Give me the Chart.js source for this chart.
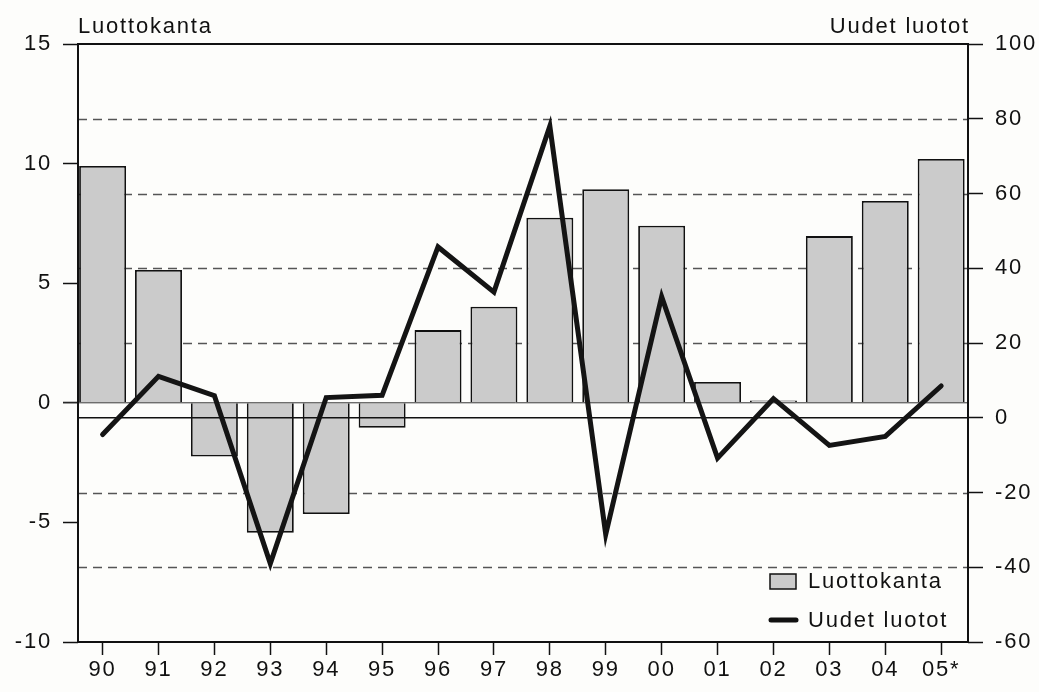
<!DOCTYPE html>
<html>
<head>
<meta charset="utf-8">
<script src="https://cdn.jsdelivr.net/npm/chart.js@4.4.1/dist/chart.umd.min.js"></script>
<style>
  html, body { margin: 0; padding: 0; background: #fdfdfb; }
  #wrap { width: 1039px; height: 692px; }
</style>
</head>
<body>
<div id="wrap"><canvas id="chart"></canvas></div>
<script>
var years = ['90', '91', '92', '93', '94', '95', '96', '97', '98', '99', '00', '01', '02', '03', '04', '05*'];
var luottokanta = [9.9, 5.55, -2.25, -5.43, -4.65, -1.04, 3.04, 4.02, 7.74, 8.93, 7.4, 0.87, 0.1, 6.97, 8.44, 10.19];
var uudetLuotot = [-4.5, 11.1, 5.9, -39, 5.4, 6.0, 45.7, 33.6, 78, -31.2, 32.4, -10.8, 5.1, -7.4, -5.0, 8.5];
var leftTicks = [15, 10, 5, 0, -5, -10];
var rightTicks = [100, 80, 60, 40, 20, 0, -20, -40, -60];
var leftTitle = 'Luottokanta';
var rightTitle = 'Uudet luotot';

var FONT = '"Liberation Sans", Arial, sans-serif';
var INK = '#111';
var BAR_FILL = '#cbcbcb';

var barPoints = luottokanta.map(function(v, i) { return { x: i, y: v }; });
var linePoints = uudetLuotot.map(function(v, i) { return { x: i, y: v }; });

// extra drawing: dashed grid, zero lines, frame, titles, legend
var decor = {
  id: 'decor',
  beforeDraw: function(chart) {
    chart.ctx.letterSpacing = '1.8px';
  },
  beforeDatasetsDraw: function(chart) {
    var ctx = chart.ctx, a = chart.chartArea, y2 = chart.scales.y2;
    ctx.save();
    ctx.strokeStyle = '#555';
    ctx.lineWidth = 1.3;
    ctx.setLineDash([9, 6]);
    rightTicks.forEach(function(v) {
      if (v === 0 || v === y2.min || v === y2.max) return;
      var py = Math.round(y2.getPixelForValue(v)) + 0.5;
      ctx.beginPath();
      ctx.moveTo(a.left, py);
      ctx.lineTo(a.right, py);
      ctx.stroke();
    });
    ctx.restore();
  },
  beforeDatasetDraw: function(chart, args) {
    if (args.index !== 1) return;
    var ctx = chart.ctx, a = chart.chartArea;
    var y0 = chart.scales.y.getPixelForValue(0);
    var y20 = chart.scales.y2.getPixelForValue(0);
    ctx.save();
    ctx.strokeStyle = '#333';
    ctx.lineWidth = 1;
    ctx.beginPath();
    ctx.moveTo(a.left - 15, y0);
    ctx.lineTo(a.right, y0);
    ctx.stroke();
    ctx.strokeStyle = INK;
    ctx.lineWidth = 1.6;
    ctx.beginPath();
    ctx.moveTo(a.left, y20);
    ctx.lineTo(a.right, y20);
    ctx.stroke();
    ctx.restore();
  },
  afterDraw: function(chart) {
    var ctx = chart.ctx, a = chart.chartArea;
    ctx.save();
    ctx.strokeStyle = INK;
    ctx.lineWidth = 2;
    ctx.strokeRect(a.left, a.top, a.right - a.left, a.bottom - a.top);

    ctx.fillStyle = INK;
    ctx.font = '22px ' + FONT;
    ctx.textBaseline = 'alphabetic';
    ctx.textAlign = 'left';
    ctx.fillText(leftTitle, a.left, a.top - 11);
    ctx.textAlign = 'right';
    ctx.fillText(rightTitle, a.right + 2, a.top - 11);

    // legend
    var lx = a.right - 198;
    ctx.fillStyle = BAR_FILL;
    ctx.fillRect(lx, a.bottom - 68, 26, 15);
    ctx.lineWidth = 1.5;
    ctx.strokeRect(lx, a.bottom - 68, 26, 15);
    ctx.lineCap = 'round';
    ctx.lineWidth = 5;
    ctx.beginPath();
    ctx.moveTo(lx + 1, a.bottom - 22);
    ctx.lineTo(lx + 26, a.bottom - 22);
    ctx.stroke();
    ctx.fillStyle = INK;
    ctx.textAlign = 'left';
    ctx.textBaseline = 'middle';
    ctx.fillText(chart.data.datasets[0].label, lx + 38, a.bottom - 60);
    ctx.fillText(chart.data.datasets[1].label, lx + 38, a.bottom - 21);
    ctx.restore();
  }
};

var tickFont = { family: FONT, size: 22 };

new Chart(document.getElementById('chart'), {
  type: 'bar',
  data: {
    datasets: [{
      type: 'bar',
      label: leftTitle,
      data: barPoints,
      yAxisID: 'y',
      order: 1,
      backgroundColor: BAR_FILL,
      borderColor: INK,
      borderWidth: 1.8,
      borderSkipped: 'start',
      categoryPercentage: 1,
      barPercentage: 0.84
    }, {
      type: 'line',
      label: rightTitle,
      data: linePoints,
      yAxisID: 'y2',
      order: 0,
      borderColor: '#141414',
      borderWidth: 5,
      borderJoinStyle: 'miter',
      borderCapStyle: 'round',
      pointRadius: 0,
      tension: 0,
      fill: false
    }]
  },
  options: {
    responsive: true,
    maintainAspectRatio: false,
    animation: false,
    layout: { padding: { top: 44 } },
    plugins: {
      legend: { display: false },
      tooltip: { enabled: false }
    },
    scales: {
      x: {
        type: 'linear',
        position: 'bottom',
        offset: false,
        min: -0.44,
        max: 15.48,
        afterBuildTicks: function(scale) {
          scale.ticks = years.map(function(y, i) { return { value: i }; });
        },
        afterFit: function(scale) { scale.height = 50; },
        ticks: {
          autoSkip: false,
          maxRotation: 0,
          padding: 2,
          color: INK,
          font: tickFont,
          callback: function(v) { return years[v]; }
        },
        grid: { display: true, offset: false, drawOnChartArea: false, drawTicks: true, tickLength: 13, tickColor: INK, tickWidth: 1.5 },
        border: { display: false }
      },
      y: {
        position: 'left',
        min: -10,
        max: 15,
        afterBuildTicks: function(scale) {
          scale.ticks = leftTicks.map(function(v) { return { value: v }; });
        },
        afterFit: function(scale) { scale.width = 78; },
        ticks: { padding: 11, color: INK, font: tickFont },
        grid: { display: true, drawOnChartArea: false, drawTicks: true, tickLength: 15, tickColor: INK, tickWidth: 1.5 },
        border: { display: false }
      },
      y2: {
        position: 'right',
        min: -60,
        max: 100,
        afterBuildTicks: function(scale) {
          scale.ticks = rightTicks.map(function(v) { return { value: v }; });
        },
        afterFit: function(scale) { scale.width = 71; },
        ticks: { padding: 12, color: INK, font: tickFont },
        grid: { display: true, drawOnChartArea: false, drawTicks: true, tickLength: 15, tickColor: INK, tickWidth: 1.5 },
        border: { display: false }
      }
    }
  },
  plugins: [decor]
});
</script>
</body>
</html>
